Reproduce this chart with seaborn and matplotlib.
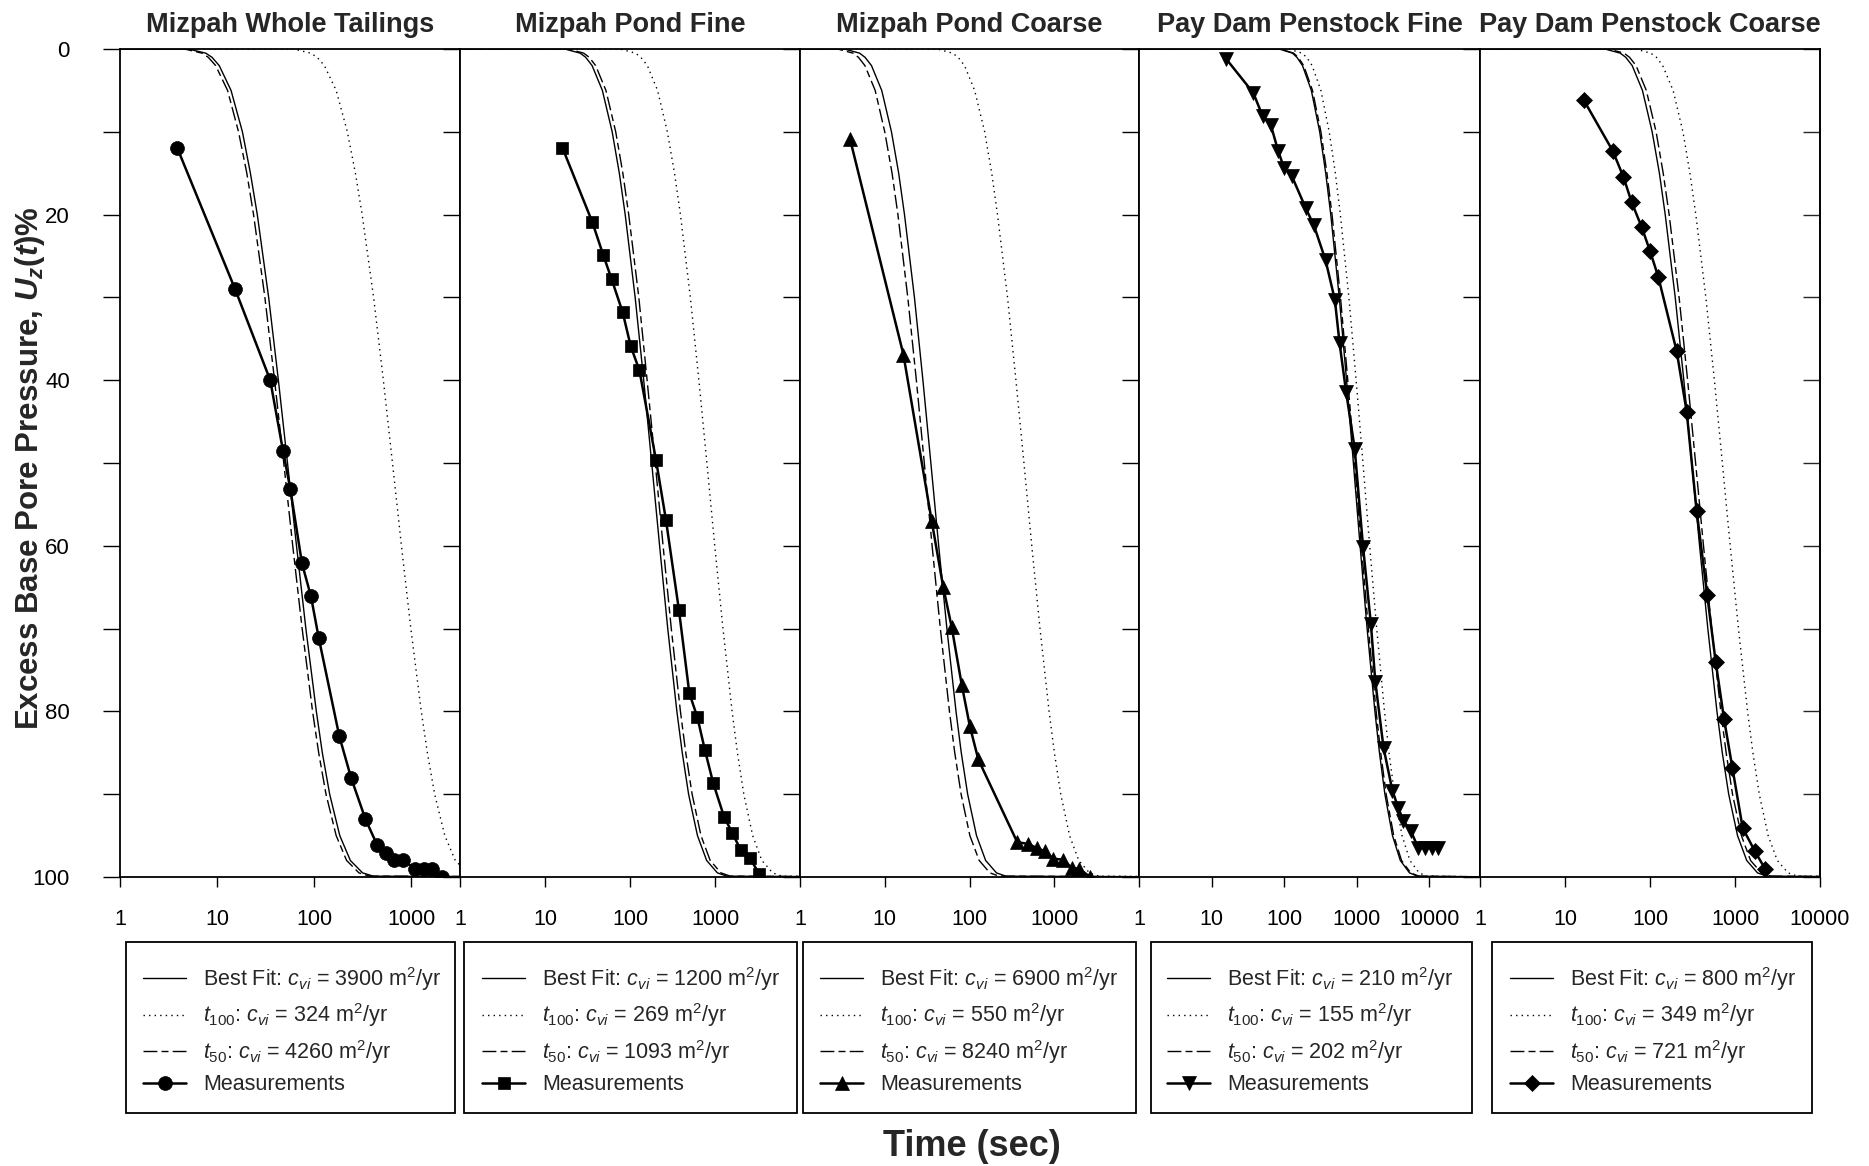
import matplotlib
matplotlib.use("Agg")
import matplotlib.pyplot as plt
import seaborn as sns
import pandas as pd
from matplotlib.patches import Rectangle
from matplotlib.ticker import NullLocator

# ---------------- data ----------------
U_LEVELS = [0, 0, 0.5, 1, 2, 5, 10, 15, 20, 30, 40, 50, 60, 70, 80, 85, 90, 95, 98, 99.5, 99.9, 100]

TITLES = ["Mizpah Whole Tailings", "Mizpah Pond Fine", "Mizpah Pond Coarse",
          "Pay Dam Penstock Fine", "Pay Dam Penstock Coarse"]
CV_BEST = [3900, 1200, 6900, 210, 800]
CV_T100 = [324, 269, 550, 155, 349]
CV_T50 = [4260, 1093, 8240, 202, 721]
MARKERS = ["o", "s", "^", "v", "D"]
XMAX = [3162, 10000, 10000, 50000, 10000]
XTICKS = [[1, 10, 100, 1000], [1, 10, 100, 1000], [1, 10, 100, 1000],
          [1, 10, 100, 1000, 10000], [1, 10, 100, 1000, 10000]]

# theoretical curves: time (s) at each U level
P1_BEST = [1, 5.04, 7.63, 8.85, 10.5, 13.9, 18.2, 22.0, 25.9, 33.9, 42.7, 53.0, 65.6, 81.9, 105, 121, 144, 183, 235, 314, 405, 1e5]
P1_T100 = [1, 60.6, 91.9, 107, 127, 168, 219, 265, 311, 408, 514, 638, 789, 986, 1263, 1459, 1734, 2205, 2826, 3783, 4881, 1e5]
P1_T50 = [1, 4.61, 6.98, 8.10, 9.65, 12.8, 16.6, 20.2, 23.7, 31.0, 39.0, 48.5, 60.0, 75.0, 96.0, 111, 132, 168, 215, 288, 371, 1e5]

P2_BEST = [1, 17.1, 25.9, 30.1, 35.8, 47.3, 61.7, 74.9, 87.8, 115, 145, 180, 223, 278, 356, 412, 489, 622, 797, 1067, 1377, 1e5]
P2_T100 = [1, 76.3, 116, 134, 160, 211, 275, 334, 392, 513, 646, 803, 993, 1241, 1589, 1836, 2183, 2775, 3557, 4762, 6143, 1e5]
P2_T50 = [1, 18.8, 28.5, 33.1, 39.4, 52.1, 67.9, 82.4, 96.6, 127, 159, 198, 245, 306, 392, 453, 538, 684, 877, 1174, 1515, 1e5]

P3_BEST = [1, 3.33, 5.04, 5.85, 6.97, 9.21, 12.0, 14.6, 17.1, 22.4, 28.2, 35.0, 43.3, 54.1, 69.3, 80.0, 95.1, 121, 155, 208, 268, 1e5]
P3_T100 = [1, 41.7, 63.2, 73.3, 87.4, 115, 151, 183, 214, 281, 353, 439, 543, 679, 869, 1004, 1193, 1517, 1945, 2603, 3358, 1e5]
P3_T50 = [1, 2.78, 4.22, 4.89, 5.83, 7.71, 10.0, 12.2, 14.3, 18.7, 23.6, 29.3, 36.2, 45.3, 58.0, 67.0, 79.6, 101, 130, 174, 224, 1e5]

P4_BEST = [1, 85.5, 130, 150, 179, 237, 309, 374, 439, 575, 725, 900, 1113, 1391, 1781, 2058, 2446, 3110, 3987, 5337, 6885, 1e5]
P4_T100 = [1, 116, 176, 204, 243, 321, 418, 508, 595, 780, 982, 1220, 1509, 1886, 2414, 2790, 3316, 4216, 5405, 7235, 9333, 1e5]
P4_T50 = [1, 88.9, 135, 156, 186, 246, 321, 389, 457, 598, 753, 936, 1158, 1447, 1852, 2141, 2544, 3235, 4146, 5550, 7160, 1e5]

P5_BEST = [1, 29.5, 44.6, 51.8, 61.7, 81.5, 106, 129, 151, 198, 250, 310, 383, 479, 613, 709, 843, 1071, 1373, 1838, 2372, 1e5]
P5_T100 = [1, 67.5, 102, 119, 141, 187, 244, 295, 346, 454, 572, 710, 878, 1098, 1405, 1624, 1930, 2454, 3145, 4210, 5432, 1e5]
P5_T50 = [1, 32.7, 49.5, 57.4, 68.5, 90.5, 118, 143, 168, 220, 277, 344, 426, 532, 681, 787, 935, 1189, 1524, 2040, 2632, 1e5]

# measurements
P1_MEAS_T = [3.9, 15.3, 35.2, 47.6, 56.6, 74.6, 92.4, 111, 181, 239, 336, 442, 552, 657, 813, 1100, 1350, 1630, 2070]
P1_MEAS_U = [12.0, 29.0, 40.0, 48.5, 53.1, 62.1, 66.1, 71.1, 83.0, 88.0, 93.0, 96.1, 97.1, 98.0, 98.0, 99.0, 99.0, 99.0, 100.0]
P2_MEAS_T = [16.0, 36, 48.5, 60.8, 82, 102, 129, 202, 265, 377, 499, 620, 762, 955, 1276, 1600, 2000, 2570, 3300]
P2_MEAS_U = [11.9, 20.9, 24.9, 27.8, 31.8, 35.9, 38.8, 49.6, 56.9, 67.8, 77.8, 80.7, 84.7, 88.7, 92.7, 94.7, 96.7, 97.7, 99.6]
P3_MEAS_T = [3.9, 16.6, 35.8, 49, 61.6, 81, 101, 127, 366, 494, 621, 778, 977, 1280, 1607, 1978, 2640]
P3_MEAS_U = [10.9, 36.9, 57.0, 65.0, 69.8, 76.8, 81.8, 85.8, 95.8, 96.0, 96.5, 96.9, 97.8, 97.9, 98.9, 99.0, 100]
P4_MEAS_T = [15.9, 37.6, 50.5, 65.6, 82.7, 100, 127, 198, 257, 372, 500, 580, 714, 939, 1222, 1571, 1804, 2344,
             3110, 3760, 4400, 5610, 7060, 8820, 10800, 13300]
P4_MEAS_U = [1.2, 5.3, 8.1, 9.2, 12.3, 14.4, 15.3, 19.2, 21.3, 25.5, 30.3, 35.5, 41.4, 48.3, 60.1, 69.5, 76.4, 84.4,
             89.6, 91.7, 93.2, 94.5, 96.5, 96.5, 96.5, 96.5]
P5_MEAS_T = [16.7, 36.4, 48.5, 60.8, 79.8, 100, 125, 206, 270, 354, 472, 592, 743, 931, 1232, 1718, 2253]
P5_MEAS_U = [6.2, 12.3, 15.4, 18.5, 21.5, 24.4, 27.5, 36.5, 43.8, 55.8, 66.0, 74.0, 80.9, 86.8, 94.1, 96.9, 99.0]

BEST = [P1_BEST, P2_BEST, P3_BEST, P4_BEST, P5_BEST]
T100 = [P1_T100, P2_T100, P3_T100, P4_T100, P5_T100]
T50 = [P1_T50, P2_T50, P3_T50, P4_T50, P5_T50]
MEAS_T = [P1_MEAS_T, P2_MEAS_T, P3_MEAS_T, P4_MEAS_T, P5_MEAS_T]
MEAS_U = [P1_MEAS_U, P2_MEAS_U, P3_MEAS_U, P4_MEAS_U, P5_MEAS_U]

# ---------------- style ----------------
sns.set_style("ticks")
plt.rcParams["font.family"] = ["Liberation Sans", "DejaVu Sans"]
plt.rcParams["mathtext.fontset"] = "custom"
plt.rcParams["mathtext.rm"] = "Liberation Sans"
plt.rcParams["mathtext.it"] = "Liberation Sans:italic"
plt.rcParams["mathtext.bf"] = "Liberation Sans:bold"
HAS_BFIT = "mathtext.bfit" in plt.rcParams
if HAS_BFIT:
    plt.rcParams["mathtext.bfit"] = "Liberation Sans:bold:italic"

W, H = 1869, 1166
fig = plt.figure(figsize=(W / 100, H / 100), dpi=100)

AX_L = [120, 460, 800, 1139, 1480]
AX_R = [460, 800, 1139, 1480, 1820]
AX_T, AX_B = 49, 877
BOX_X = [(126, 455), (464, 797), (803, 1136), (1151, 1472), (1492, 1812)]
BOX_T, BOX_B = 942, 1113
HANDLE_X = [143, 482, 820, 1167, 1510]

DASH = (0, (10, 3, 5, 3))
DOT = (0, (1, 3))

for i in range(5):
    l, r = AX_L[i], AX_R[i]
    ax = fig.add_axes([l / W, 1 - AX_B / H, (r - l) / W, (AX_B - AX_T) / H])

    df_best = pd.DataFrame({"t": BEST[i], "U": U_LEVELS})
    df_100 = pd.DataFrame({"t": T100[i], "U": U_LEVELS})
    df_50 = pd.DataFrame({"t": T50[i], "U": U_LEVELS})
    df_m = pd.DataFrame({"t": MEAS_T[i], "U": MEAS_U[i]})

    sns.lineplot(data=df_best, x="t", y="U", ax=ax, color="k", lw=1.0, sort=False,
                 estimator=None, legend=False)
    h_best = ax.lines[-1]
    sns.lineplot(data=df_100, x="t", y="U", ax=ax, color="k", lw=1.0, sort=False,
                 estimator=None, legend=False, linestyle=DOT)
    h_100 = ax.lines[-1]
    sns.lineplot(data=df_50, x="t", y="U", ax=ax, color="k", lw=1.0, sort=False,
                 estimator=None, legend=False, linestyle=DASH)
    h_50 = ax.lines[-1]
    ms = {"o": 10, "s": 9, "^": 10, "v": 10, "D": 8.5}[MARKERS[i]]
    sns.lineplot(data=df_m, x="t", y="U", ax=ax, color="k", lw=1.8, sort=False,
                 estimator=None, legend=False, marker=MARKERS[i], markersize=ms,
                 mec="k", mfc="k", mew=0.5)
    h_m = ax.lines[-1]

    ax.set_xscale("log")
    ax.set_xlim(1, XMAX[i])
    ax.set_ylim(100, 0)
    ax.set_xticks(XTICKS[i])
    ax.set_xticklabels([str(v) for v in XTICKS[i]])
    ax.xaxis.set_minor_locator(NullLocator())
    ax.set_yticks(list(range(0, 101, 10)))
    if i == 0:
        ax.set_yticklabels([str(v) if v % 20 == 0 else "" for v in range(0, 101, 10)])
    else:
        ax.set_yticklabels([])
    ax.set_xlabel("")
    ax.set_ylabel("")
    ax.tick_params(axis="x", direction="out", length=7, width=1, labelsize=15.5, pad=16, colors="k")
    ax.tick_params(axis="y", direction="out", length=12, width=1, labelsize=16, pad=24, colors="k")
    for s in ax.spines.values():
        s.set_linewidth(1.3)
        s.set_color("k")
    if i == 4:
        sec = ax.secondary_yaxis("right")
        sec.set_yticks(list(range(0, 101, 10)))
        sec.set_yticklabels([])
        sec.tick_params(direction="in", length=12, width=1)
        sec.spines["right"].set_linewidth(1.3)

    fig.text((l + r) / 2 / W, 1 - 25 / H, TITLES[i], ha="center", va="center",
             fontsize=19.5, fontweight="bold")

    labels = [
        r"Best Fit: $c_{vi}$ = %d m$^{2}$/yr" % CV_BEST[i],
        r"$t_{\mathit{100}}$: $c_{vi}$ = %d m$^{2}$/yr" % CV_T100[i],
        r"$t_{\mathit{50}}$: $c_{vi}$ = %d m$^{2}$/yr" % CV_T50[i],
        "Measurements",
    ]
    fig.legend([h_best, h_100, h_50, h_m], labels, loc="center left",
               bbox_to_anchor=(HANDLE_X[i] / W, 1 - 1030 / H), bbox_transform=fig.transFigure,
               frameon=False, fontsize=15.5, handlelength=2.0, handletextpad=0.8,
               labelspacing=0.4, borderpad=0, borderaxespad=0, numpoints=1)
    x0, x1 = BOX_X[i]
    fig.add_artist(Rectangle((x0 / W, 1 - BOX_B / H), (x1 - x0) / W, (BOX_B - BOX_T) / H,
                             transform=fig.transFigure, fill=False, lw=1.3, ec="k"))

if HAS_BFIT:
    ylab = r"Excess Base Pore Pressure, $\mathbfit{U}_{\mathbfit{z}}\mathbf{(}\mathbfit{t}\mathbf{)}$%"
else:
    ylab = r"Excess Base Pore Pressure, $U_{z}(t)$%"
fig.text(30 / W, 1 - 468 / H, ylab, rotation=90, ha="center", va="center",
         fontsize=22.5, fontweight="bold")
fig.text(972 / W, 1 - 1147 / H, "Time (sec)", ha="center", va="center",
         fontsize=26, fontweight="bold")

fig.savefig("out.png", dpi=100, facecolor="white")
